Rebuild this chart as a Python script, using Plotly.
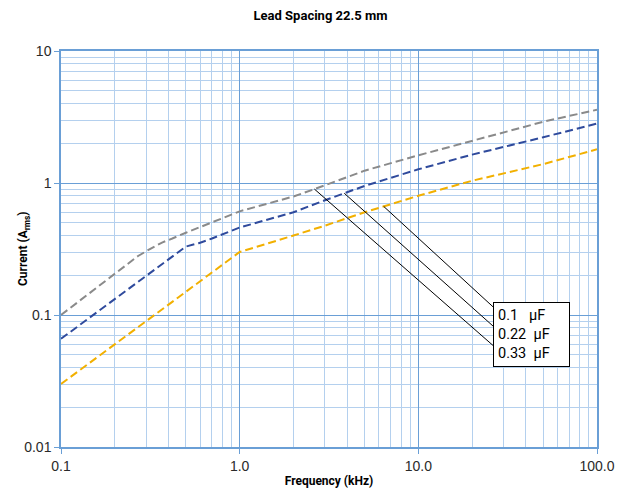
import numpy as np
import plotly.graph_objects as go

# ---- data ----
freq_033 = [0.1, 0.27, 0.32, 0.37, 0.42, 0.5, 1, 2, 3, 5, 10, 20, 50, 100]
curr_033 = [0.1, 0.28, 0.32, 0.355, 0.38, 0.42, 0.61, 0.79, 0.96, 1.24, 1.62, 2.09, 2.91, 3.59]

freq_022 = [0.1, 0.42, 0.5, 0.59, 0.7, 1, 2, 3, 5, 10, 20, 50, 100]
curr_022 = [0.066, 0.28, 0.33, 0.35, 0.38, 0.46, 0.60, 0.74, 0.95, 1.27, 1.64, 2.22, 2.82]

freq_010 = [0.1, 1, 2, 3, 5, 10, 20, 50, 100]
curr_010 = [0.03, 0.30, 0.40, 0.475, 0.60, 0.80, 1.04, 1.39, 1.80]

series_labels = ["0.1", "0.22", "0.33"]
label_anchor_freq = [6.4, 3.85, 2.62]

x_tickvals = [0.1, 1, 10, 100]
x_ticktext = ["0.1", "1.0", "10.0", "100.0"]
y_tickvals = [0.01, 0.1, 1, 10]
y_ticktext = ["0.01", "0.1", "1", "10"]

# ---- style ----
GREY = "#8a8a8a"
BLUE = "#2f4a9c"
ORANGE = "#f2b000"
MAJOR = "#6a9fd6"
MINOR = "#b4d0ee"

series = [
    (freq_010, curr_010, ORANGE),
    (freq_022, curr_022, BLUE),
    (freq_033, curr_033, GREY),
]

fig = go.Figure()
for f, c, col in series[::-1]:
    fig.add_trace(go.Scatter(x=f, y=c, mode="lines",
                             line=dict(color=col, width=2, dash="8px,4px"),
                             showlegend=False, hoverinfo="skip"))

# leader lines from curves to the label box
box_x = 27.6
box_y = [0.108, 0.0774, 0.0552]
for (f, c, col), fa, by in zip(series, label_anchor_freq, box_y):
    ya = 10 ** np.interp(np.log10(fa), np.log10(f), np.log10(c))
    fig.add_trace(go.Scatter(x=[fa, box_x], y=[ya, by], mode="lines",
                             line=dict(color="black", width=1),
                             showlegend=False, hoverinfo="skip"))

minor_vals = [m * 10.0 ** e for e in range(-2, 2) for m in range(2, 10)]

axis_common = dict(
    type="log", automargin=False,
    showgrid=True, gridcolor=MAJOR, gridwidth=1.3,
    showline=True, linecolor=MAJOR, linewidth=1.5, mirror=True,
    ticks="outside", ticklen=5, tickcolor=MAJOR,
    tickfont=dict(family="Liberation Sans, Arial", size=14, color="#2a2a2a"),
    minor=dict(tickvals=minor_vals, showgrid=True, gridcolor=MINOR, gridwidth=1.2, ticks=""),
    zeroline=False,
)

fig.update_xaxes(range=[-1, 2], tickvals=x_tickvals, ticktext=x_ticktext,
                 title=dict(text="Frequency (kHz)",
                            font=dict(family="Roboto", size=12, color="black", weight="bold"),
                            standoff=4),
                 **axis_common)
fig.update_yaxes(range=[-2, 1], tickvals=y_tickvals, ticktext=y_ticktext,
                 **axis_common)

# y-axis title as an annotation (sits close to the tick labels)
fig.add_annotation(xref="paper", yref="paper", x=-0.069, y=0.5,
                   xanchor="center", yanchor="middle", showarrow=False,
                   textangle=-90, text="Current (A<sub>rms</sub>)",
                   font=dict(family="Roboto", size=12, color="black", weight="bold"))

label_text = "<br>".join([
    "0.1\u00a0\u00a0\u00a0µF",
    "0.22\u00a0\u00a0µF",
    "0.33\u00a0\u00a0µF",
])
fig.add_annotation(xref="paper", yref="paper", x=0.8065, y=0.367,
                   xanchor="left", yanchor="top", showarrow=False,
                   text=label_text, align="left", valign="middle",
                   font=dict(family="Roboto", size=14.5, color="black"),
                   bgcolor="white", bordercolor="black", borderwidth=1,
                   borderpad=4, width=67, height=55)

fig.update_layout(
    width=625, height=487,
    margin=dict(l=53, r=36, t=43, b=48, autoexpand=False),
    paper_bgcolor="white", plot_bgcolor="white",
    title=dict(text="<b>Lead Spacing 22.5 mm</b>", x=0.5, xanchor="center",
               y=0.9856, yanchor="middle", automargin=False,
               font=dict(family="Roboto", size=13, color="black")),
)

fig.write_html("out.html")
